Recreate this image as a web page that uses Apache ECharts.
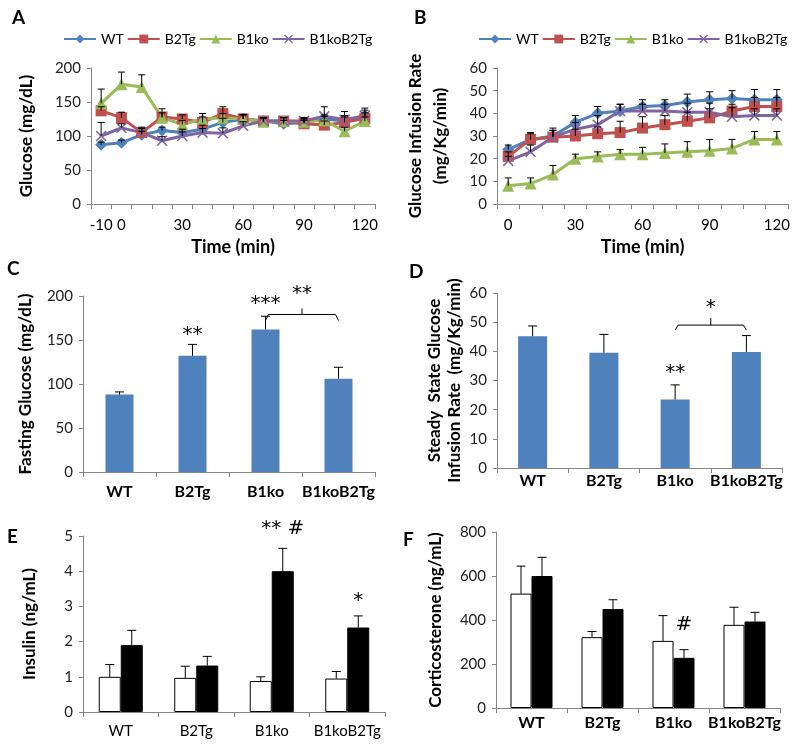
<!DOCTYPE html>
<html><head><meta charset="utf-8">
<script src="https://cdn.jsdelivr.net/npm/echarts@6/dist/echarts.min.js"></script>
<style>html,body{margin:0;padding:0;background:#fff}#c{width:800px;height:749px}</style>
</head><body><div id="c"></div>
<script>
// ---------- DATA ----------
const groups = ['WT', 'B2Tg', 'B1ko', 'B1koB2Tg'];
const timeA = ['-10','0','10','20','30','40','50','60','70','80','90','100','110','120'];
const timeB = ['0','10','20','30','40','50','60','70','80','90','100','110','120'];
const shownTimeLabels = ['-10','0','30','60','90','120'];

// Panel A: glucose during clamp (mg/dL)
const glucWT       = [87, 90, 102, 108, 105, 110, 120, 125, 122, 118, 120, 125, 122, 130];
const glucWTErr    = [4, 4, 5, 5, 5, 6, 6, 6, 5, 5, 5, 6, 6, 8];
const glucB2Tg     = [137, 127, 105, 128, 125, 120, 133, 125, 122, 122, 118, 116, 120, 126];
const glucB2TgErr  = [6, 8, 6, 6, 6, 8, 10, 7, 5, 5, 5, 6, 10, 8];
const glucB1ko     = [148, 176, 172, 127, 117, 125, 127, 125, 121, 122, 121, 123, 107, 122];
const glucB1koErr  = [21, 18, 18, 13, 6, 8, 6, 6, 5, 5, 5, 6, 6, 6];
const glucDbl      = [100, 112, 105, 93, 100, 105, 104, 115, 122, 122, 122, 129, 124, 130];
const glucDblErr   = [20, 6, 8, 6, 6, 6, 8, 6, 5, 5, 5, 14, 12, 11];

// Panel B: glucose infusion rate (mg/Kg/min)
const girWT       = [24, 28.5, 30, 36, 40, 41, 43, 43.5, 45, 46, 46.5, 46, 46];
const girWTErr    = [2, 3, 3.5, 3, 3, 3, 3, 2.5, 3.5, 3.5, 3.5, 4.5, 4.5];
const girB2Tg     = [21, 28.5, 29.5, 30, 31, 31.5, 33.5, 35, 36.5, 38, 41, 43, 43];
const girB2TgErr  = [2, 2.5, 3, 3, 3, 5, 5, 4, 4, 4, 3, 4, 4];
const girB1ko     = [8, 9, 13, 20, 21, 22, 22, 22.5, 23, 23.5, 24.5, 28.5, 28.5];
const girB1koErr  = [3.5, 2.5, 4, 2, 2, 2, 3, 4, 4.5, 5, 4, 3.5, 3.5];
const girDbl      = [19, 23, 29.5, 33, 35, 41, 41, 41, 40.5, 40.5, 38.5, 39, 39];
const girDblErr   = [2, 3, 3, 3, 4, 3, 3, 3, 4, 4, 4, 3, 3];

// Panel C: fasting glucose
const fastGluc    = [88, 132, 162, 106];
const fastGlucErr = [3, 13, 15, 13];
// Panel D: steady state GIR
const ssGir       = [45.2, 39.5, 23.5, 39.8];
const ssGirErr    = [3.5, 6.3, 5, 5.6];
// Panel E: insulin (white / black)
const insWhite    = [1.0, 0.97, 0.88, 0.95];
const insWhiteErr = [0.35, 0.33, 0.12, 0.2];
const insBlack    = [1.9, 1.32, 4.0, 2.4];
const insBlackErr = [0.42, 0.26, 0.65, 0.33];
// Panel F: corticosterone (white / black)
const corWhite    = [520, 322, 305, 378];
const corWhiteErr = [125, 26, 115, 80];
const corBlack    = [600, 450, 228, 393];
const corBlackErr = [85, 42, 37, 42];

// Significance marks: [category index, value level, text, bar ('single'|'white'|'black')]
const sigC = [[1, 156, '**', 'single'], [2, 191, '***', 'single']];
const brC  = [[2, 3, 179, '**']];
const sigD = [[2, 32.5, '**', 'single']];
const brD  = [[2, 3, 49, '*']];
const sigE = [[2, 5.2, '** #', 'black'], [3, 3.15, '*', 'black']];
const sigF = [[2, 380, '#', 'black']];

// ---------- STYLE HELPERS ----------
const FONT = 'Lato, "Open Sans", sans-serif';
const STAR_FONT = '20px "DejaVu Sans", sans-serif';
const C_BLUE = '#4F81BD', C_RED = '#C0504D', C_GREEN = '#9BBB59', C_PURPLE = '#8064A2';
const AXIS_COL = '#868686';
const XSYM = 'path://M0,1 L1,0 L5,4 L9,0 L10,1 L6,5 L10,9 L9,10 L5,6 L1,10 L0,9 L4,5 Z';

function errRender(offset, capHalf) {
  return function (params, api) {
    const i = api.value(0), v = api.value(1), e = api.value(2);
    const p0 = api.coord([i, v]), p1 = api.coord([i, v + e]);
    const x = p0[0] + offset;
    return {type: 'group', children: [
      {type: 'line', shape: {x1: x, y1: p0[1], x2: x, y2: p1[1]}, style: {stroke: '#000', lineWidth: 1}},
      {type: 'line', shape: {x1: x - capHalf, y1: p1[1], x2: x + capHalf, y2: p1[1]}, style: {stroke: '#000', lineWidth: 1}}
    ]};
  };
}
function errSeries(gi, vals, errs, offset, capHalf) {
  return {type: 'custom', xAxisIndex: gi, yAxisIndex: gi, z: 5, silent: true,
    renderItem: errRender(offset, capHalf), encode: {x: 0, y: 1},
    data: vals.map((v, i) => [i, v, errs[i]])};
}
function sigSeries(gi, list, barHalf) {
  return {type: 'custom', xAxisIndex: gi, yAxisIndex: gi, z: 6, silent: true, clip: false,
    encode: {x: 0, y: 1},
    renderItem: function (params, api) {
      const d = list[params.dataIndex];
      const p = api.coord([d[0], d[1]]);
      const off = d[3] === 'black' ? barHalf : (d[3] === 'white' ? -barHalf : 0);
      return {type: 'text', x: p[0] + off, y: p[1],
        style: {text: d[2], fill: '#000', font: STAR_FONT, align: 'center', verticalAlign: 'middle'}};
    },
    data: list.map(d => [d[0], d[1]])};
}
function bracketSeries(gi, list, drop, rise, textGap) {
  return {type: 'custom', xAxisIndex: gi, yAxisIndex: gi, z: 6, silent: true, clip: false,
    encode: {x: 0, y: 2},
    renderItem: function (params, api) {
      const d = list[params.dataIndex];
      const a = api.coord([d[0], d[2]]), b = api.coord([d[1], d[2]]);
      const y = a[1], mid = (a[0] + b[0]) / 2;
      return {type: 'group', children: [
        {type: 'polyline', shape: {points: [[a[0], y + drop], [a[0] + 3, y], [b[0] - 3, y], [b[0], y + drop]]}, style: {stroke: '#000', lineWidth: 1, fill: null}},
        {type: 'line', shape: {x1: mid, y1: y, x2: mid, y2: y - rise}, style: {stroke: '#000', lineWidth: 1}},
        {type: 'text', x: mid, y: y - rise - textGap, style: {text: d[3], fill: '#000', font: STAR_FONT, align: 'center', verticalAlign: 'middle'}}
      ]};
    },
    data: list.map(d => [d[0], d[1], d[2]])};
}
function xCat(gi, data, opts) {
  return Object.assign({
    type: 'category', gridIndex: gi, data: data,
    axisLine: {show: true, lineStyle: {color: AXIS_COL}},
    axisTick: {show: true, interval: 0, length: 5, lineStyle: {color: AXIS_COL}},
    axisLabel: {color: '#000', fontSize: 15, fontFamily: FONT, interval: 0, margin: 12},
    splitLine: {show: false}
  }, opts || {});
}
const NAME_STYLE = {color: '#000', fontSize: 17, fontWeight: 'bold', fontFamily: FONT, lineHeight: 22};
function yVal(gi, max, interval, name, nameGap, opts) {
  return Object.assign({
    type: 'value', gridIndex: gi, min: 0, max: max, interval: interval,
    name: name, nameLocation: 'middle', nameGap: nameGap,
    nameTextStyle: NAME_STYLE,
    axisLine: {show: true, lineStyle: {color: AXIS_COL}},
    axisTick: {show: true, length: 4, lineStyle: {color: AXIS_COL}},
    axisLabel: {color: '#222', fontSize: 15, fontFamily: FONT, margin: 10},
    splitLine: {show: false}
  }, opts || {});
}
function lineSeries(gi, name, vals, color, symbol, size) {
  return {type: 'line', name: name, xAxisIndex: gi, yAxisIndex: gi, data: vals,
    symbol: symbol, symbolSize: size, showAllSymbol: true,
    lineStyle: {color: color, width: 3}, itemStyle: {color: color, borderWidth: 0}, z: 3};
}

const series = [];
// Panel A (grid 0)
series.push(lineSeries(0, 'WT', glucWT, C_BLUE, 'diamond', 12));
series.push(lineSeries(0, 'B2Tg', glucB2Tg, C_RED, 'rect', 11));
series.push(lineSeries(0, 'B1ko', glucB1ko, C_GREEN, 'triangle', 12));
series.push(lineSeries(0, 'B1koB2Tg', glucDbl, C_PURPLE, XSYM, 11));
series.push(errSeries(0, glucWT, glucWTErr, 0, 3.5));
series.push(errSeries(0, glucB2Tg, glucB2TgErr, 0, 3.5));
series.push(errSeries(0, glucB1ko, glucB1koErr, 0, 3.5));
series.push(errSeries(0, glucDbl, glucDblErr, 0, 3.5));
// Panel B (grid 1)
series.push(lineSeries(1, 'WT', girWT, C_BLUE, 'diamond', 12));
series.push(lineSeries(1, 'B2Tg', girB2Tg, C_RED, 'rect', 11));
series.push(lineSeries(1, 'B1ko', girB1ko, C_GREEN, 'triangle', 12));
series.push(lineSeries(1, 'B1koB2Tg', girDbl, C_PURPLE, XSYM, 11));
series.push(errSeries(1, girWT, girWTErr, 0, 3.5));
series.push(errSeries(1, girB2Tg, girB2TgErr, 0, 3.5));
series.push(errSeries(1, girB1ko, girB1koErr, 0, 3.5));
series.push(errSeries(1, girDbl, girDblErr, 0, 3.5));
// Panel C (grid 2)
series.push({type: 'bar', xAxisIndex: 2, yAxisIndex: 2, data: fastGluc, barWidth: 28, itemStyle: {color: C_BLUE}});
series.push(errSeries(2, fastGluc, fastGlucErr, 0, 4.5));
series.push(sigSeries(2, sigC, 0));
series.push(bracketSeries(2, brC, 6, 6, 15));
// Panel D (grid 3)
series.push({type: 'bar', xAxisIndex: 3, yAxisIndex: 3, data: ssGir, barWidth: 29, itemStyle: {color: C_BLUE}});
series.push(errSeries(3, ssGir, ssGirErr, 0, 4.5));
series.push(sigSeries(3, sigD, 0));
series.push(bracketSeries(3, brD, 5, 7, 10));
// Panel E (grid 4)
series.push({type: 'bar', xAxisIndex: 4, yAxisIndex: 4, data: insWhite, barWidth: 22, barGap: '0%', itemStyle: {color: '#fff', borderColor: '#000', borderWidth: 1}});
series.push({type: 'bar', xAxisIndex: 4, yAxisIndex: 4, data: insBlack, barWidth: 22, barGap: '0%', itemStyle: {color: '#000', borderColor: '#000', borderWidth: 1}});
series.push(errSeries(4, insWhite, insWhiteErr, -11, 4.5));
series.push(errSeries(4, insBlack, insBlackErr, 11, 4.5));
series.push(sigSeries(4, sigE, 11));
// Panel F (grid 5)
series.push({type: 'bar', xAxisIndex: 5, yAxisIndex: 5, data: corWhite, barWidth: 21, barGap: '0%', itemStyle: {color: '#fff', borderColor: '#000', borderWidth: 1}});
series.push({type: 'bar', xAxisIndex: 5, yAxisIndex: 5, data: corBlack, barWidth: 21, barGap: '0%', itemStyle: {color: '#000', borderColor: '#000', borderWidth: 1}});
series.push(errSeries(5, corWhite, corWhiteErr, -10.5, 4.5));
series.push(errSeries(5, corBlack, corBlackErr, 10.5, 4.5));
series.push(sigSeries(5, sigF, 10.5));

const boldLbl = {color: '#000', fontSize: 16, fontWeight: 'bold', fontFamily: FONT, interval: 0};
const timeLabelFn = (idx, val) => shownTimeLabels.indexOf(val) >= 0;
const legendCommon = {top: 27, width: 380, itemWidth: 32, itemHeight: 11, itemGap: 3,
  textStyle: {color: '#000', fontSize: 14, fontFamily: FONT}};
const timeName = {name: 'Time (min)', nameLocation: 'middle', nameGap: 34,
  nameTextStyle: {color: '#000', fontSize: 18, fontWeight: 'bold', fontFamily: FONT}};

const option = {
  animation: false,
  backgroundColor: '#fff',
  textStyle: {fontFamily: FONT},
  grid: [
    {left: 91, top: 68, width: 284, height: 136},
    {left: 497, top: 68, width: 291, height: 136},
    {left: 83, top: 296, width: 292, height: 176},
    {left: 497, top: 293, width: 285, height: 175},
    {left: 83, top: 536, width: 302, height: 176},
    {left: 496, top: 532, width: 284, height: 176}
  ],
  legend: [
    Object.assign({left: 58, data: groups}, legendCommon),
    Object.assign({left: 473, data: groups}, legendCommon)
  ],
  xAxis: [
    xCat(0, timeA, Object.assign({}, timeName,
      {axisLabel: {color: '#000', fontSize: 15, fontFamily: FONT, interval: timeLabelFn, margin: 14}})),
    xCat(1, timeB, Object.assign({}, timeName,
      {axisLabel: {color: '#000', fontSize: 15, fontFamily: FONT, interval: timeLabelFn, margin: 14}})),
    xCat(2, groups, {axisLabel: Object.assign({}, boldLbl, {margin: 12})}),
    xCat(3, groups, {axisLabel: Object.assign({}, boldLbl, {margin: 5})}),
    xCat(4, groups, {axisLabel: {color: '#000', fontSize: 15, fontFamily: FONT, interval: 0, margin: 12}}),
    xCat(5, groups, {axisLabel: Object.assign({}, boldLbl, {margin: 7})})
  ],
  yAxis: [
    yVal(0, 200, 50, 'Glucose (mg/dL)', 53),
    yVal(1, 60, 10, 'Glucose Infusion Rate\n(mg/Kg/min)', 44, {nameTextStyle: Object.assign({}, NAME_STYLE, {lineHeight: 25})}),
    yVal(2, 200, 50, 'Fasting Glucose (mg/dL)', 46),
    yVal(3, 60, 10, 'Steady  State Glucose\nInfusion Rate  (mg/Kg/min)', 32, {nameTextStyle: Object.assign({}, NAME_STYLE, {lineHeight: 20})}),
    yVal(4, 5, 1, 'Insulin (ng/mL)', 42),
    yVal(5, 800, 200, 'Corticosterone (ng/mL)', 49)
  ],
  graphic: [
    {type: 'text', left: 12, top: 8, style: {text: 'A', font: 'bold 19px ' + FONT, fill: '#000'}},
    {type: 'text', left: 414, top: 8, style: {text: 'B', font: 'bold 19px ' + FONT, fill: '#000'}},
    {type: 'text', left: 7, top: 259, style: {text: 'C', font: 'bold 19px ' + FONT, fill: '#000'}},
    {type: 'text', left: 409, top: 262, style: {text: 'D', font: 'bold 19px ' + FONT, fill: '#000'}},
    {type: 'text', left: 7, top: 527, style: {text: 'E', font: 'bold 19px ' + FONT, fill: '#000'}},
    {type: 'text', left: 403, top: 530, style: {text: 'F', font: 'bold 19px ' + FONT, fill: '#000'}}
  ],
  series: series
};

const chart = echarts.init(document.getElementById('c'), null, {renderer: 'canvas'});
chart.setOption(option);
</script>
</body></html>
